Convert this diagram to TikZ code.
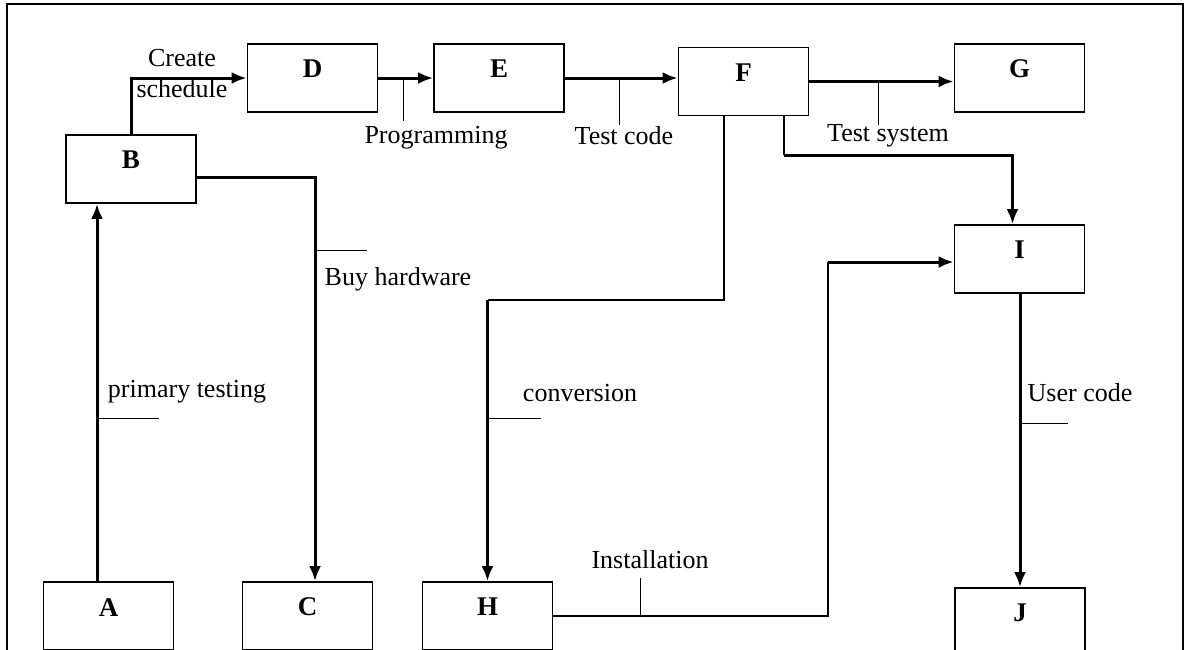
\documentclass[tikz,border=0pt]{standalone}
\usepackage{fontspec}
\setmainfont{Liberation Serif}
\usetikzlibrary{arrows.meta}

\begin{document}
\begin{tikzpicture}[x=0.5pt,y=-0.5pt]

\tikzset{block/.style = {shape=rectangle,draw,line width=0.9pt,minimum width=65pt,minimum height=34pt,inner sep=0pt,
  label={[name=t#1,anchor=center,yshift=-13pt,font=\bfseries\fontsize{13.5}{15}\selectfont]north:#1}}}
\tikzset{edge/.style = {->,line width=1.5pt,> = {Latex[length=7.5pt,width=6pt]}}}
\tikzset{wire/.style = {line width=0.6pt}}
\tikzset{tick/.style = {line width=0.5pt}}
\tikzset{lbl/.style = {font=\fontsize{13}{15.5}\selectfont,inner sep=1pt}}

\useasboundingbox (0,0) rectangle (1186,649);
\clip (0,0) rectangle (1186,649);
\draw[line width=1pt] (7,700) -- (7,4) -- (1183,4) -- (1183,700);

% blocks
\node[block=D] (D) at (312.5,78) {};
\node[block=E] (E) at (499,78) {};
\node[block=F] (F) at (743.5,81.5) {};
\node[block=G] (G) at (1019.5,78) {};
\node[block=B] (B) at (131,169) {};
\node[block=I] (I) at (1019.5,259) {};
\node[block=A] (A) at (108.5,616) {};
\node[block=C] (C) at (307.5,616) {};
\node[block=H] (H) at (487.5,616) {};
\node[block=J] (J) at (1020,622) {};

% bends and ticks
\coordinate (f1) at (784,155);
\coordinate (f2) at (724,300);
\coordinate (h1) at (828,262);
\coordinate (tprog) at (403,121);
\coordinate (ttc) at (619,125);
\coordinate (tts) at (878,125);
\coordinate (tbh) at (367,250);
\coordinate (tpt) at (159,418);
\coordinate (tcv) at (541,418);
\coordinate (tuc) at (1068,423);
\coordinate (tin) at (640,578);

% edges
\draw[edge] (B.north) |- (D.west);
\draw[edge] (D) -- (E);
\draw[edge] (E.east) -- (E.east -| F.west);
\draw[edge] (F.east) -- (F.east -| G.west);
\draw[wire] (F.south -| f1) -- (f1);
\draw[edge] (f1) -| ([xshift=-3.5pt]I.north);
\draw[wire] (F.south -| f2) -- (f2) -- (f2 -| H.north);
\draw[edge] (f2 -| H.north) -- (H.north);
\draw[wire] (H.east) -| (h1);
\draw[edge] (h1) -- (h1 -| I.west);
\draw[edge] (I.south -| J.north) -- (J.north);
\draw[edge] ([xshift=-5.75pt]A.north) -- ([xshift=-5.75pt]A.north |- B.south);
\draw[edge] ([yshift=-4pt]B.east) -| ([xshift=3.75pt]C.north);

\draw[tick] (tprog |- D.east) -- (tprog);
\draw[tick] (ttc |- E.east) -- (ttc);
\draw[tick] (tts |- F.east) -- (tts);
\draw[tick] ([xshift=3.75pt]C.north |- tbh) -- (tbh);
\draw[tick] ([xshift=-5.75pt]A.north |- tpt) -- (tpt);
\draw[tick] (H.north |- tcv) -- (tcv);
\draw[tick] (J.north |- tuc) -- (tuc);
\draw[tick] (tin |- H.east) -- (tin);

% labels
\node[lbl,align=center] (lcs) at (182,74) {Create\\schedule};
\node[lbl] (lprog) at (436,138) {Programming};
\node[lbl] (ltc) at (624,136) {Test code};
\node[lbl] (lts) at (888,136) {Test system};
\node[lbl] (lbh) at (398,279) {Buy hardware};
\node[lbl] (lpt) at (187,392) {primary testing};
\node[lbl] (lcv) at (580,393) {conversion};
\node[lbl] (luc) at (1080,393) {User code};
\node[lbl] (lin) at (650,560) {Installation};

\end{tikzpicture}
\end{document}
